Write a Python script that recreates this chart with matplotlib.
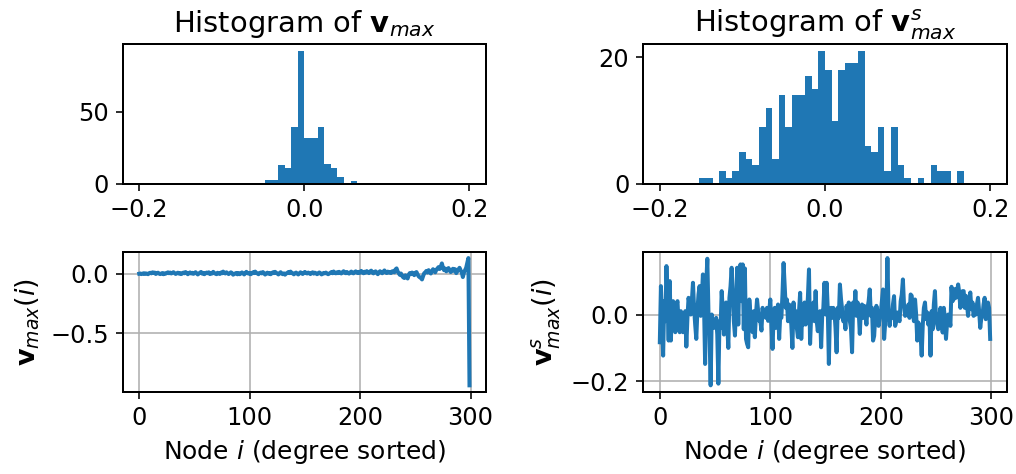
import numpy as np
import matplotlib
matplotlib.use("Agg")
import matplotlib.pyplot as plt

# histogram bin counts (50 bins over [-0.2, 0.2])
hist_edges_lo = -0.2
hist_edges_hi = 0.2
n_bins = 50
counts_vmax = [0] * 50
for b, c in {19: 3, 20: 3, 21: 13, 22: 11, 23: 39, 24: 92, 25: 32, 26: 32,
             27: 39, 28: 14, 29: 11, 30: 5, 32: 2, 34: 1, 40: 1}.items():
    counts_vmax[b] = c
counts_vs = [0] * 50
for b, c in {6: 1, 7: 1, 9: 2, 10: 1, 11: 2, 12: 5, 13: 4, 14: 3, 15: 9, 16: 12,
             17: 4, 18: 14, 19: 9, 20: 14, 21: 14, 22: 17, 23: 15, 24: 21, 25: 18,
             26: 10, 27: 18, 28: 19, 29: 19, 30: 21, 31: 6, 32: 5, 33: 9, 34: 2,
             35: 9, 36: 3, 37: 1, 39: 1, 41: 3, 42: 2, 43: 2, 45: 2}.items():
    counts_vs[b] = c

# eigenvector entries, nodes sorted by degree
v_max = [
    0.000, 0.002, -0.003, 0.001, 0.004, -0.002, 0.003, 0.000, -0.004, 0.005,
    0.008, 0.003, 0.012, 0.006, 0.010, -0.002, 0.004, 0.009, 0.001, -0.003,
    0.002, 0.006, -0.004, 0.003, 0.001, 0.007, 0.012, 0.004, 0.010, 0.002,
    0.008, 0.013, 0.006, -0.002, 0.004, 0.009, 0.001, 0.006, -0.003, 0.002,
    0.010, 0.004, 0.014, 0.006, -0.004, 0.003, 0.011, 0.002, 0.008, -0.001,
    0.004, 0.013, 0.003, -0.006, 0.002, 0.009, 0.015, 0.001, 0.007, -0.004,
    0.003, 0.010, 0.004, 0.012, -0.003, 0.006, 0.002, 0.016, 0.005, 0.001,
    -0.004, 0.008, 0.003, -0.002, 0.010, 0.004, 0.018, 0.007, 0.002, 0.012,
    0.005, -0.003, 0.004, 0.012, 0.006, -0.008, -0.002, 0.003, 0.007, -0.005,
    0.006, -0.004, 0.002, 0.011, 0.004, -0.006, 0.003, 0.016, 0.006, 0.001,
    0.007, -0.004, 0.003, 0.012, 0.005, 0.018, 0.008, 0.002, -0.004, 0.006,
    0.010, 0.003, 0.014, 0.004, -0.007, 0.002, 0.009, 0.000, 0.006, -0.004,
    0.003, 0.012, 0.005, 0.016, 0.008, 0.002, -0.006, 0.004, 0.013, 0.001,
    -0.004, 0.003, -0.008, 0.002, 0.006, 0.014, 0.005, 0.018, 0.007, 0.003,
    -0.005, 0.004, 0.010, 0.001, -0.006, 0.003, 0.012, 0.004, -0.002, 0.008,
    0.015, 0.006, 0.002, 0.010, 0.004, -0.003, 0.006, 0.012, 0.001, 0.009,
    0.004, -0.004, 0.002, 0.011, 0.005, -0.006, -0.001, 0.007, 0.003, 0.010,
    0.002, -0.004, 0.001, 0.008, 0.014, 0.004, 0.019, 0.008, 0.003, 0.012,
    0.005, 0.016, 0.007, 0.002, 0.013, 0.021, 0.009, 0.004, 0.015, 0.006,
    0.001, 0.011, 0.018, 0.007, 0.003, 0.014, 0.020, 0.010, 0.005, 0.016,
    0.008, 0.024, 0.012, 0.004, 0.017, 0.009, 0.022, 0.014, 0.005, 0.019,
    0.026, 0.010, 0.003, 0.015, 0.020, 0.008, -0.004, 0.012, 0.021, 0.010,
    0.004, 0.016, 0.028, 0.012, 0.006, 0.018, 0.010, 0.014, 0.006, 0.020,
    0.022, 0.012, 0.036, 0.045, 0.018, 0.004, -0.010, 0.002, -0.018, -0.030,
    -0.036, -0.014, -0.026, -0.040, -0.008, 0.006, -0.004, 0.010, 0.002, -0.012,
    0.008, 0.014, -0.006, -0.022, -0.030, -0.035, -0.048, -0.020, 0.004, 0.012,
    0.024, 0.010, 0.030, 0.016, 0.002, 0.020, 0.038, 0.024, 0.012, 0.034,
    0.044, 0.056, 0.040, 0.060, 0.087, 0.050, 0.030, 0.044, 0.020, 0.036,
    0.048, 0.028, 0.014, 0.030, 0.042, 0.024, 0.038, 0.005, 0.022, 0.036,
    0.050, 0.028, 0.012, -0.028, 0.010, 0.030, 0.050, 0.090, 0.132, -0.940,
]
v_s = [
    -0.083, 0.085, -0.030, -0.123, 0.040, -0.020, 0.145, 0.030, -0.078, 0.100,
    -0.078, 0.020, 0.040, -0.010, -0.053, 0.030, 0.040, -0.030, -0.053, 0.010,
    0.000, -0.053, -0.030, 0.010, -0.096, -0.010, 0.050, 0.030, 0.000, 0.040,
    0.095, 0.020, -0.030, -0.073, 0.010, 0.060, 0.085, -0.004, 0.050, 0.120,
    0.030, -0.148, 0.090, 0.167, 0.010, -0.060, -0.212, 0.000, -0.030, -0.040,
    -0.022, -0.010, -0.060, -0.207, -0.020, -0.040, 0.070, 0.010, -0.060, 0.020,
    0.036, -0.030, -0.100, 0.050, 0.085, 0.140, 0.060, -0.020, -0.063, 0.030,
    0.140, -0.030, 0.130, 0.150, 0.040, 0.150, -0.044, 0.138, -0.073, -0.088,
    -0.098, 0.045, 0.000, -0.030, -0.053, 0.010, -0.068, 0.000, 0.045, 0.010,
    -0.019, -0.020, -0.048, 0.020, 0.000, 0.006, -0.010, 0.020, -0.019, 0.010,
    0.045, -0.030, -0.103, -0.004, 0.020, -0.040, 0.010, 0.030, -0.073, 0.000,
    -0.010, 0.060, 0.154, 0.085, 0.020, 0.045, -0.020, 0.030, 0.000, -0.030,
    -0.100, 0.036, 0.000, 0.010, -0.040, -0.068, 0.010, 0.065, -0.073, 0.015,
    -0.030, 0.036, -0.030, 0.000, 0.050, 0.135, -0.088, 0.000, -0.010, 0.036,
    -0.020, 0.070, -0.020, -0.050, 0.000, 0.010, -0.098, 0.000, 0.020, 0.095,
    0.000, 0.095, 0.016, -0.148, 0.016, 0.020, -0.010, 0.020, 0.010, -0.040,
    -0.113, 0.020, -0.010, 0.090, 0.046, 0.016, -0.020, -0.010, -0.044, 0.026,
    -0.004, 0.036, -0.020, -0.040, -0.113, 0.036, 0.010, 0.070, -0.004, 0.036,
    0.010, -0.058, 0.016, 0.030, -0.010, 0.026, 0.000, -0.030, 0.020, 0.040,
    0.075, -0.004, 0.020, -0.078, -0.064, -0.004, 0.026, 0.010, -0.034, -0.010,
    0.006, 0.040, 0.075, -0.073, -0.024, 0.010, 0.169, 0.016, -0.034, 0.000,
    -0.010, 0.030, 0.055, -0.034, -0.020, 0.006, -0.010, -0.020, 0.040, 0.060,
    0.105, 0.030, -0.004, 0.020, 0.000, 0.030, -0.010, 0.060, 0.056, 0.010,
    -0.020, 0.045, 0.000, -0.078, -0.024, -0.040, -0.060, -0.123, -0.030, 0.020,
    0.036, -0.014, 0.006, -0.030, 0.000, -0.123, 0.010, -0.044, 0.030, 0.070,
    -0.014, -0.030, -0.044, -0.004, 0.020, -0.020, -0.054, 0.020, -0.010, -0.073,
    -0.024, 0.000, -0.010, -0.034, 0.083, 0.040, 0.046, 0.076, 0.050, 0.070,
    0.090, 0.066, 0.020, 0.050, 0.070, 0.070, 0.020, 0.056, 0.030, -0.004,
    0.040, 0.066, 0.016, 0.036, -0.004, 0.020, 0.000, 0.030, 0.050, 0.010,
    -0.040, -0.010, -0.004, 0.030, 0.050, -0.014, 0.020, 0.036, 0.020, -0.073,
]

edges = np.linspace(hist_edges_lo, hist_edges_hi, n_bins + 1)
centers = (edges[:-1] + edges[1:]) / 2
nodes = np.arange(len(v_max))

plt.rcParams["font.size"] = 12
plt.rcParams["axes.linewidth"] = 1.0

fig = plt.figure(figsize=(1016 / 144, 474 / 144), dpi=144)
W, H = 1016, 474
def box(l, t, r, b):
    return [l / W, 1 - b / H, (r - l) / W, (b - t) / H]

ax1 = fig.add_axes(box(122.7, 44, 486, 184))
ax2 = fig.add_axes(box(643.3, 44, 1006.7, 184))
ax3 = fig.add_axes(box(122.7, 251.7, 486, 391.7))
ax4 = fig.add_axes(box(643.3, 251.7, 1006.7, 391.7))

ax1.hist(centers, bins=edges, weights=counts_vmax, color="#1f77b4")
ax1.set_title(r"Histogram of $\mathbf{v}_{max}$", fontsize=14.5)
ax1.set_xticks([-0.2, 0.0, 0.2])
ax1.set_yticks([0, 50])
ax2.hist(centers, bins=edges, weights=counts_vs, color="#1f77b4")
ax2.set_title(r"Histogram of $\mathbf{v}^{s}_{max}$", fontsize=14.5)
ax2.set_xticks([-0.2, 0.0, 0.2])
ax2.set_yticks([0, 20])

ax3.plot(nodes, v_max, lw=2)
ax3.grid(True)
ax3.set_yticks([-0.5, 0.0])
ax3.set_xticks([0, 100, 200, 300])
ax3.set_ylabel(r"$\mathbf{v}_{max}(i)$", fontsize=13.5)
ax3.set_xlabel(r"Node $i$ (degree sorted)", fontsize=12.5)

ax4.plot(nodes, v_s, lw=2)
ax4.grid(True)
ax4.set_yticks([-0.2, 0.0])
ax4.set_xticks([0, 100, 200, 300])
ax4.set_ylabel(r"$\mathbf{v}^s_{max}(i)$", fontsize=13.5)
ax4.set_xlabel(r"Node $i$ (degree sorted)", fontsize=12.5)

fig.savefig("out.png", dpi=144)
